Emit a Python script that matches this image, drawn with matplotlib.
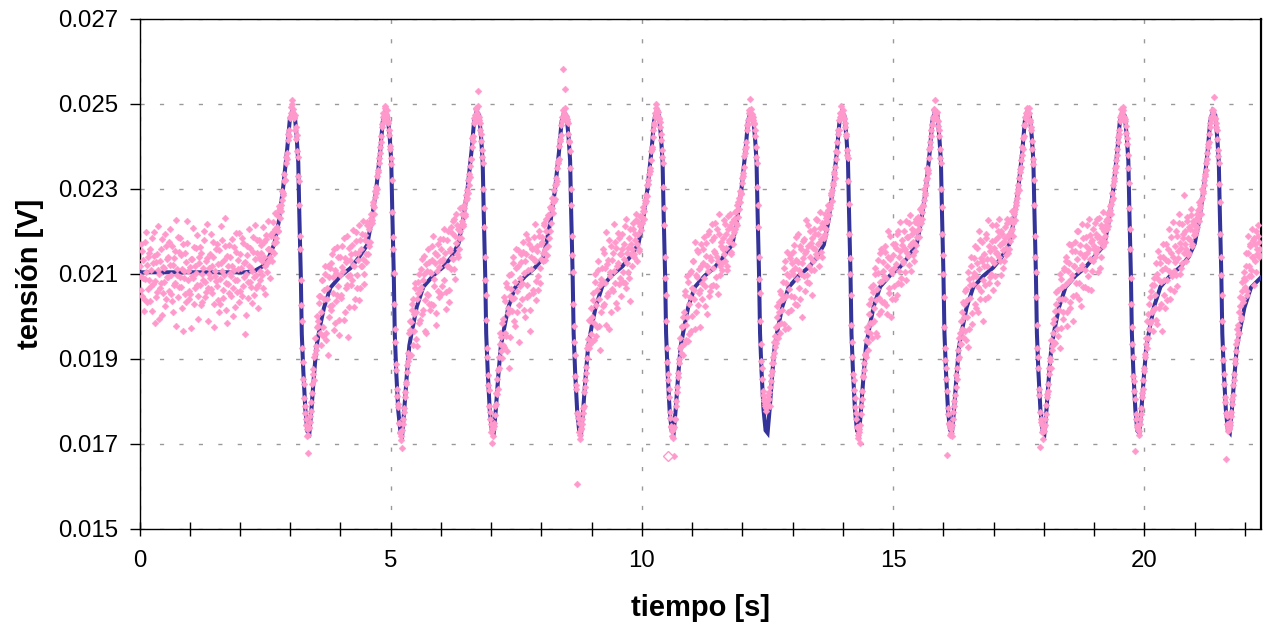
import matplotlib
matplotlib.use("Agg")
import matplotlib.pyplot as plt
import numpy as np
from matplotlib.ticker import FixedLocator, MultipleLocator, FormatStrFormatter

plt.rcParams['font.family'] = ['Liberation Sans', 'DejaVu Sans']

# ---------------- data (voltages in units of 1e-5 V) ----------------
SAMPLE_DT = 0.02          # s between samples of each raw list
OFFSET_B = 0.01           # list B sampled half a step later
VOLT_UNIT = 1e-5

raw_samples_a = [
 2118, 2062, 2155, 2090, 2041, 2176, 2104, 2033, 2139, 2087,
 2160, 2071, 2012, 2125, 2198, 2083, 2046, 2147, 2109, 1995,
 2131, 2078, 2182, 2056, 2115, 2025, 2167, 2094, 2140, 2061,
 2207, 2098, 2037, 2122, 2074, 2153, 1978, 2112, 2186, 2069,
 2093, 2144, 2020, 2171, 2108, 2052, 2129, 2224, 2085, 2040,
 2117, 1972, 2136, 2091, 2163, 2068, 2102, 2191, 2049, 2126,
 2075, 2150, 2034, 2113, 2202, 2081, 2058, 2137, 1990, 2099,
 2146, 2064, 2119, 2175, 2029, 2096, 2158, 2072, 2124, 2011,
 2088, 2213, 2107, 2044, 2132, 2166, 2078, 1984, 2120, 2055,
 2141, 2096, 2183, 2067, 2110, 2022, 2152, 2086, 2134, 2197,
 2059, 2115, 2048, 2172, 2093, 2128, 2004, 2145, 2082, 2118,
 2161, 2070, 2106, 2188, 2051, 2135, 2097, 2149, 2073, 2179,
 2085, 2150, 2131, 2067, 2176, 2118, 2192, 2104, 2160, 2133,
 2140, 2190, 2155, 2198, 2149, 2205, 2176, 2238, 2201, 2251,
 2255, 2248, 2296, 2290, 2335, 2322, 2376, 2384, 2430, 2440,
 2470, 2492, 2510, 2478, 2466, 2440, 2418, 2390, 2330, 2262,
 2160, 2028, 1925, 1852, 1808, 1772, 1745, 1718, 1678, 1738,
 1765, 1798, 1840, 1876, 1905, 1950, 1921, 2002, 1978, 2031,
 2048, 1934, 2085, 1975, 2062, 2101, 1945, 2040, 2120, 1998,
 2113, 2015, 2148, 2056, 1968, 2109, 2037, 2164, 2071, 1992,
 2140, 2043, 2117, 2185, 2011, 2129, 2075, 1952, 2162, 2098,
 2075, 2168, 2121, 2022, 2150, 2199, 2067, 2133, 2038, 2179,
 2118, 2194, 2136, 2077, 2180, 2129, 2222, 2148, 2205, 2176,
 2232, 2219, 2262, 2241, 2281, 2305, 2300, 2340, 2361, 2385,
 2410, 2445, 2470, 2462, 2490, 2475, 2486, 2455, 2438, 2402,
 2372, 2320, 2186, 2102, 1970, 1889, 1830, 1795, 1750, 1728,
 1710, 1732, 1746, 1784, 1810, 1846, 1870, 1915, 1904, 1968,
 1988, 2030, 1932, 2005, 2066, 1946, 2040, 2082, 1984, 2063,
 2111, 2007, 2085, 2143, 2038, 1961, 2108, 2050, 2129, 2016,
 2102, 2167, 2027, 2088, 2126, 1980, 2145, 2061, 2117, 2182,
 2054, 2131, 2182, 2085, 2150, 2018, 2118, 2201, 2063, 2160,
 2111, 2197, 2135, 2230, 2088, 2173, 2216, 2140, 2185, 2202,
 2215, 2240, 2218, 2262, 2236, 2285, 2279, 2322, 2310, 2355,
 2370, 2420, 2425, 2468, 2475, 2490, 2478, 2530, 2462, 2440,
 2412, 2376, 2300, 2210, 2085, 1992, 1905, 1838, 1790, 1760,
 1728, 1702, 1735, 1750, 1790, 1820, 1818, 1875, 1880, 1935,
 1952, 1902, 1994, 1928, 2036, 1955, 2070, 2009, 1880, 2048,
 2100, 2012, 2140, 2044, 1978, 2115, 2059, 2156, 2028, 2091,
 2129, 2040, 2176, 2102, 2000, 2147, 2074, 2183, 2051, 1965,
 2111, 2158, 2063, 2186, 2130, 2038, 2167, 2095, 2202, 2078,
 2135, 2188, 2150, 2221, 2132, 2200, 2166, 2239, 2202, 2252,
 2280, 2244, 2297, 2276, 2326, 2318, 2362, 2371, 2418, 2426,
 2460, 2582, 2476, 2490, 2472, 2465, 2455, 2412, 2390, 2300,
 2190, 2105, 1978, 1910, 1838, 1606, 1770, 1750, 1722, 1735,
 1748, 1772, 1790, 1835, 1868, 1902, 1932, 1925, 1990, 1958,
 2000, 2055, 1945, 2080, 2028, 1975, 2110, 2042, 1920, 2088,
 2115, 2024, 2150, 2078, 1981, 2124, 2055, 2180, 2096, 2010,
 2133, 2059, 2106, 2175, 2032, 2120, 2197, 2077, 2146, 2049,
 2160, 2081, 2136, 2212, 2068, 2150, 2105, 2185, 2037, 2171,
 2120, 2205, 2148, 2180, 2226, 2130, 2195, 2160, 2237, 2204,
 2220, 2248, 2230, 2266, 2285, 2284, 2320, 2335, 2342, 2390,
 2398, 2440, 2450, 2478, 2500, 2485, 2470, 2468, 2445, 2415,
 2375, 2305, 2215, 2090, 1990, 1892, 1850, 1810, 1762, 1740,
 1720, 1735, 1672, 1760, 1800, 1822, 1866, 1900, 1950, 1930,
 1975, 1910, 2010, 2051, 1945, 1998, 2080, 1958, 2045, 2108,
 2002, 2130, 2063, 1970, 2098, 2156, 2026, 2111, 2063, 2170,
 2042, 2127, 2188, 2071, 2142, 2006, 2108, 2200, 2059, 2133,
 2179, 2075, 2153, 2221, 2094, 2140, 2052, 2194, 2118, 2167,
 2110, 2184, 2146, 2218, 2161, 2120, 2205, 2175, 2240, 2152,
 2190, 2170, 2230, 2205, 2248, 2215, 2270, 2252, 2295, 2288,
 2325, 2330, 2378, 2395, 2410, 2450, 2462, 2485, 2511, 2476,
 2470, 2455, 2440, 2398, 2360, 2262, 2140, 2055, 1935, 1880,
 1825, 1800, 1790, 1778, 1795, 1806, 1822, 1790, 1848, 1872,
 1890, 1915, 1955, 1938, 2000, 1980, 2035, 1962, 2052, 2015,
 2080, 1983, 2130, 2048, 2100, 1972, 2065, 2145, 2016, 2108,
 2152, 2047, 2115, 2186, 2028, 2129, 2068, 2165, 2100, 2000,
 2137, 2182, 2060, 2153, 2098, 2215, 2079, 2141, 2174, 2050,
 2162, 2110, 2195, 2146, 2228, 2171, 2120, 2209, 2182, 2140,
 2210, 2185, 2242, 2205, 2225, 2262, 2238, 2256, 2290, 2272,
 2310, 2335, 2325, 2370, 2388, 2430, 2440, 2470, 2480, 2472,
 2485, 2468, 2455, 2430, 2392, 2372, 2265, 2138, 2050, 1940,
 1865, 1828, 1788, 1760, 1740, 1715, 1728, 1702, 1790, 1825,
 1858, 1890, 1912, 1945, 1975, 1920, 2030, 1985, 2070, 1950,
 2058, 1990, 2115, 2039, 1955, 2102, 2044, 2150, 2012, 2084,
 2128, 2035, 2166, 2091, 2006, 2139, 2067, 2190, 2110, 2042,
 2145, 2072, 2171, 2124, 2050, 2200, 2108, 2153, 2076, 2180,
 2130, 2202, 2158, 2085, 2186, 2142, 2221, 2165, 2108, 2194,
 2175, 2130, 2222, 2168, 2200, 2235, 2186, 2224, 2255, 2230,
 2262, 2300, 2285, 2320, 2350, 2338, 2395, 2410, 2440, 2452,
 2465, 2485, 2510, 2478, 2462, 2448, 2425, 2372, 2300, 2195,
 2100, 1975, 1898, 1852, 1675, 1770, 1750, 1722, 1735, 1745,
 1775, 1800, 1835, 1852, 1900, 1905, 1960, 1935, 2010, 1952,
 2030, 1965, 2065, 2000, 1928, 2088, 2043, 2120, 1982, 2076,
 2138, 2030, 2095, 2162, 2011, 2112, 2180, 2059, 2130, 1990,
 2148, 2074, 2195, 2120, 2046, 2167, 2092, 2135, 2216, 2063,
 2125, 2180, 2150, 2078, 2202, 2140, 2168, 2098, 2195, 2156,
 2130, 2185, 2162, 2220, 2150, 2195, 2178, 2230, 2205, 2190,
 2240, 2228, 2262, 2280, 2300, 2298, 2340, 2352, 2380, 2395,
 2425, 2450, 2465, 2482, 2478, 2490, 2462, 2445, 2412, 2370,
 2320, 2190, 2105, 1980, 1905, 1830, 1693, 1760, 1745, 1712,
 1730, 1745, 1770, 1810, 1825, 1865, 1895, 1880, 1930, 1962,
 1995, 1938, 2030, 1970, 2062, 2015, 1925, 2088, 2040, 1995,
 2110, 2042, 2140, 1978, 2081, 2126, 2020, 2168, 2097, 2048,
 2118, 2175, 2050, 2136, 2202, 2079, 2150, 2025, 2122, 2185,
 2140, 2070, 2166, 2215, 2095, 2158, 2192, 2062, 2180, 2130,
 2165, 2220, 2150, 2188, 2105, 2232, 2175, 2140, 2208, 2166,
 2200, 2175, 2215, 2230, 2212, 2245, 2260, 2240, 2290, 2310,
 2325, 2350, 2368, 2395, 2422, 2440, 2470, 2488, 2478, 2485,
 2470, 2460, 2432, 2405, 2350, 2255, 2160, 2030, 1935, 1860,
 1825, 1683, 1760, 1740, 1735, 1722, 1760, 1785, 1820, 1850,
 1880, 1912, 1935, 1990, 1950, 2030, 1985, 2060, 2010, 1965,
 2075, 2020, 2125, 1982, 2088, 2140, 2030, 2110, 2170, 2050,
 2020, 2132, 2086, 2160, 2108, 2041, 2186, 2095, 2140, 2060,
 2128, 2200, 2072, 2155, 2220, 2100, 2162, 2125, 2195, 2286,
 2170, 2130, 2225, 2185, 2150, 2205, 2238, 2170, 2218, 2192,
 2195, 2230, 2210, 2250, 2225, 2262, 2240, 2280, 2295, 2310,
 2330, 2345, 2370, 2400, 2410, 2445, 2465, 2470, 2485, 2517,
 2468, 2455, 2440, 2392, 2360, 2270, 2140, 2050, 1925, 1865,
 1810, 1665, 1765, 1740, 1738, 1745, 1765, 1795, 1815, 1850,
 1890, 1918, 1945, 1980, 1960, 2025, 1995, 2060, 2035, 2090,
 2070, 2120, 2050, 2150, 2095, 2165, 2110, 2140, 2180, 2075,
 2170, 2105, 2148, 2190, 2140, 2160,
]

raw_samples_b = [
 2095, 2170, 2048, 2133, 2012, 2089, 2198, 2121, 2064, 2150,
 2037, 2109, 2185, 2076, 2142, 1985, 2128, 2057, 2214, 2100,
 2066, 2158, 2003, 2117, 2081, 2193, 2040, 2135, 2092, 2176,
 2121, 2054, 2167, 2010, 2138, 2079, 2226, 2098, 2045, 2152,
 2184, 2069, 2112, 1966, 2091, 2149, 2035, 2173, 2108, 2060,
 2052, 2136, 2095, 2208, 2030, 2119, 2161, 2074, 1993, 2140,
 2163, 2026, 2101, 2085, 2179, 2047, 2130, 2218, 2068, 2114,
 2090, 2195, 2055, 2141, 1975, 2106, 2083, 2170, 2039, 2157,
 2029, 2126, 2180, 2062, 2097, 2232, 2015, 2143, 2076, 2168,
 2103, 2049, 2120, 2001, 2164, 2087, 2196, 2058, 2111, 2034,
 2148, 2184, 2072, 2126, 1958, 2099, 2167, 2043, 2205, 2081,
 2113, 2031, 2152, 2094, 2215, 2066, 2179, 2019, 2137, 2108,
 2168, 2097, 2210, 2140, 2052, 2183, 2126, 2225, 2159, 2090,
 2195, 2131, 2222, 2172, 2243, 2185, 2211, 2200, 2259, 2232,
 2262, 2275, 2285, 2318, 2320, 2360, 2370, 2415, 2425, 2468,
 2478, 2500, 2488, 2470, 2474, 2445, 2428, 2375, 2318, 2190,
 2085, 1990, 1892, 1840, 1790, 1760, 1735, 1722, 1740, 1752,
 1778, 1820, 1865, 1850, 1912, 1930, 1975, 1990, 2048, 1960,
 2010, 2085, 1955, 2040, 2120, 1962, 2068, 1910, 2092, 2025,
 2126, 2028, 2092, 2160, 1984, 2103, 2050, 2140, 1957, 2098,
 2051, 2165, 2108, 1992, 2137, 2068, 2190, 2095, 2023, 2132,
 2146, 2085, 2204, 2120, 2042, 2178, 2097, 2150, 2215, 2068,
 2160, 2118, 2225, 2100, 2192, 2148, 2215, 2175, 2166, 2215,
 2240, 2228, 2270, 2258, 2295, 2290, 2330, 2345, 2372, 2398,
 2425, 2452, 2478, 2472, 2495, 2476, 2470, 2460, 2428, 2395,
 2358, 2245, 2160, 2030, 1940, 1875, 1812, 1788, 1750, 1725,
 1720, 1690, 1760, 1775, 1822, 1840, 1885, 1895, 1962, 1990,
 1910, 2015, 2042, 1965, 2078, 2010, 1930, 2055, 2100, 1992,
 2070, 2136, 2015, 2100, 1965, 2124, 2052, 2158, 2030, 2105,
 2030, 2133, 2190, 2072, 2150, 2008, 2108, 2170, 2045, 2130,
 2160, 2072, 2135, 2206, 2057, 2181, 2120, 2035, 2155, 2210,
 2138, 2225, 2112, 2190, 2242, 2148, 2205, 2160, 2255, 2185,
 2225, 2212, 2255, 2240, 2275, 2298, 2290, 2335, 2328, 2370,
 2398, 2412, 2455, 2460, 2488, 2475, 2495, 2470, 2455, 2430,
 2392, 2360, 2255, 2140, 2050, 1925, 1862, 1828, 1775, 1748,
 1738, 1720, 1742, 1768, 1795, 1852, 1830, 1905, 1960, 1918,
 1985, 1932, 2045, 1960, 2078, 1918, 2020, 2098, 1952, 2065,
 2042, 2125, 1990, 2082, 2160, 2010, 2118, 1940, 2072, 2146,
 2078, 2152, 2016, 2130, 2195, 2045, 2110, 2170, 2015, 2140,
 2162, 2055, 2136, 2218, 2084, 2155, 2062, 2190, 2113, 2170,
 2175, 2130, 2216, 2158, 2230, 2145, 2238, 2185, 2258, 2220,
 2255, 2270, 2272, 2310, 2312, 2350, 2365, 2402, 2412, 2450,
 2470, 2485, 2478, 2536, 2470, 2460, 2430, 2410, 2350, 2262,
 2145, 2030, 1940, 1860, 1830, 1772, 1762, 1728, 1712, 1738,
 1760, 1785, 1822, 1850, 1882, 1925, 1948, 1992, 1935, 2020,
 1942, 2038, 1985, 2100, 1955, 2062, 2130, 1978, 2075, 2010,
 2082, 2158, 2030, 2115, 2198, 2048, 2132, 1970, 2105, 2166,
 2065, 2150, 2218, 2078, 2162, 2020, 2125, 2185, 2090, 2148,
 2195, 2105, 2170, 2078, 2230, 2125, 2162, 2090, 2205, 2148,
 2158, 2220, 2140, 2195, 2240, 2170, 2222, 2155, 2212, 2235,
 2235, 2258, 2248, 2275, 2272, 2310, 2312, 2350, 2368, 2395,
 2422, 2455, 2470, 2490, 2475, 2482, 2465, 2458, 2430, 2392,
 2362, 2255, 2140, 2050, 1925, 1865, 1830, 1775, 1742, 1730,
 1715, 1740, 1760, 1790, 1835, 1858, 1890, 1925, 1915, 1978,
 2000, 1935, 2060, 1980, 2095, 1942, 2030, 2102, 1965, 2068,
 2130, 2040, 2175, 2010, 2092, 2152, 2055, 1975, 2120, 2078,
 2160, 2090, 2025, 2172, 2118, 2195, 2048, 2140, 2072, 2218,
 2115, 2188, 2150, 2072, 2205, 2130, 2240, 2098, 2175, 2126,
 2160, 2228, 2130, 2195, 2110, 2236, 2180, 2212, 2148, 2222,
 2205, 2198, 2245, 2220, 2262, 2235, 2280, 2270, 2290, 2315,
 2338, 2352, 2385, 2400, 2440, 2452, 2478, 2470, 2488, 2472,
 2462, 2452, 2425, 2375, 2305, 2210, 2088, 1990, 1895, 1852,
 1815, 1805, 1795, 1785, 1800, 1815, 1805, 1835, 1862, 1890,
 1905, 1940, 1928, 1975, 2025, 1950, 2010, 2060, 1985, 2042,
 2040, 2115, 1970, 2078, 2152, 2010, 2095, 2138, 2048, 2125,
 2100, 2168, 2030, 2132, 2088, 2195, 2110, 2040, 2158, 2125,
 2178, 2095, 2150, 2226, 2082, 2165, 2120, 2202, 2110, 2185,
 2130, 2205, 2158, 2230, 2140, 2195, 2172, 2245, 2152, 2220,
 2188, 2220, 2195, 2232, 2225, 2250, 2260, 2262, 2285, 2298,
 2315, 2340, 2352, 2390, 2410, 2438, 2462, 2478, 2495, 2478,
 2475, 2465, 2445, 2425, 2380, 2318, 2195, 2100, 1980, 1905,
 1850, 1808, 1772, 1740, 1722, 1735, 1745, 1770, 1805, 1860,
 1875, 1910, 1905, 1965, 1940, 2005, 1962, 2040, 1985, 2075,
 2020, 2100, 1960, 2065, 2132, 2005, 2080, 2160, 2035, 2108,
 2095, 2152, 2028, 2120, 2200, 2055, 2135, 1998, 2102, 2170,
 2115, 2040, 2162, 2195, 2078, 2140, 2222, 2090, 2168, 2125,
 2160, 2105, 2225, 2150, 2188, 2122, 2238, 2170, 2205, 2145,
 2200, 2155, 2230, 2188, 2218, 2205, 2252, 2220, 2245, 2260,
 2275, 2290, 2310, 2325, 2345, 2372, 2400, 2425, 2450, 2470,
 2488, 2478, 2470, 2482, 2460, 2440, 2395, 2360, 2258, 2145,
 2045, 1925, 1880, 1825, 1785, 1748, 1740, 1725, 1718, 1758,
 1790, 1815, 1862, 1880, 1922, 1950, 1935, 1990, 1970, 2035,
 2000, 2060, 1945, 2038, 2105, 1970, 2075, 2140, 2008, 2092,
 2102, 2165, 2020, 2125, 2070, 2200, 2042, 2138, 2175, 2085,
 2120, 2040, 2185, 2135, 2228, 2078, 2155, 2100, 2178, 2130,
 2162, 2095, 2215, 2150, 2188, 2230, 2130, 2200, 2172, 2115,
 2175, 2210, 2145, 2230, 2190, 2160, 2225, 2200, 2248, 2220,
 2245, 2252, 2270, 2290, 2310, 2325, 2348, 2368, 2398, 2420,
 2450, 2470, 2478, 2490, 2475, 2480, 2458, 2440, 2395, 2358,
 2262, 2140, 2045, 1925, 1880, 1815, 1775, 1752, 1728, 1735,
 1740, 1758, 1792, 1818, 1840, 1880, 1902, 1945, 1920, 1985,
 1940, 2012, 2058, 1955, 2040, 2100, 1972, 2070, 2010, 2115,
 2075, 2130, 2010, 2108, 2170, 2035, 2088, 2155, 1990, 2120,
 2155, 2078, 2200, 2110, 2040, 2168, 2115, 2218, 2070, 2145,
 2110, 2188, 2150, 2065, 2230, 2135, 2175, 2108, 2205, 2160,
 2140, 2195, 2230, 2158, 2188, 2115, 2215, 2180, 2245, 2175,
 2190, 2225, 2205, 2240, 2228, 2250, 2265, 2275, 2280, 2318,
 2340, 2355, 2380, 2410, 2430, 2460, 2475, 2480, 2492, 2470,
 2465, 2448, 2420, 2380, 2315, 2205, 2090, 1975, 1905, 1848,
 1805, 1770, 1745, 1735, 1730, 1748, 1770, 1810, 1830, 1872,
 1905, 1950, 1925, 2005, 1970, 2045, 1990, 2075, 2015, 2090,
 2050, 1992, 2100, 2155, 2020, 2125, 2080, 1965, 2140, 2085,
 2115, 2170, 2038, 2130, 2205, 2065, 2150, 2100, 2222, 2108,
 2165, 2098, 2190, 2138, 2240, 2172, 2115, 2218, 2185, 2150,
 2202, 2160, 2235, 2145, 2210, 2180, 2252, 2165, 2225, 2200,
 2215, 2200, 2240, 2235, 2270, 2255, 2275, 2300, 2290, 2320,
 2335, 2360, 2385, 2405, 2430, 2455, 2470, 2485, 2478, 2470,
 2465, 2445, 2418, 2378, 2312, 2195, 2098, 1990, 1898, 1840,
 1798, 1772, 1748, 1730, 1735, 1752, 1775, 1805, 1838, 1865,
 1900, 1935, 1970, 1958, 2010, 2045, 2000, 2080, 2040, 2105,
 2085, 2150, 2060, 2190, 2120, 2170, 2095, 2205, 2140, 2185,
 2130, 2200, 2158, 2215, 2175, 2145,
]

# one sample drawn with a different (hollow) marker in the original
odd_t = [10.52]
odd_v = [1671]

# smoothed trace (time in s, voltage in 1e-5 V)
smooth_t = [
 0.00, 2.10, 2.30, 2.45, 2.56,
 2.68, 2.77, 2.86, 2.94, 2.99, 3.04, 3.09, 3.13, 3.16, 3.18, 3.21, 3.23, 3.26, 3.30, 3.34, 3.38, 3.42, 3.47, 3.52, 3.59, 3.67, 3.80, 4.00, 4.20, 4.36,
 4.53, 4.62, 4.71, 4.79, 4.84, 4.89, 4.94, 4.98, 5.01, 5.03, 5.06, 5.08, 5.11, 5.15, 5.19, 5.23, 5.27, 5.32, 5.37, 5.44, 5.52, 5.65, 5.85, 6.05, 6.21,
 6.35, 6.44, 6.53, 6.61, 6.66, 6.71, 6.76, 6.80, 6.83, 6.85, 6.88, 6.90, 6.93, 6.97, 7.01, 7.05, 7.09, 7.14, 7.19, 7.26, 7.34, 7.47, 7.67, 7.87, 8.03,
 8.09, 8.18, 8.27, 8.35, 8.40, 8.45, 8.50, 8.54, 8.57, 8.59, 8.62, 8.64, 8.67, 8.71, 8.75, 8.79, 8.83, 8.88, 8.93, 9.00, 9.08, 9.21, 9.41, 9.61, 9.77,
 9.93, 10.02, 10.11, 10.19, 10.24, 10.29, 10.34, 10.38, 10.41, 10.43, 10.46, 10.48, 10.51, 10.55, 10.59, 10.63, 10.67, 10.72, 10.77, 10.84, 10.92, 11.05, 11.25, 11.45, 11.61,
 11.80, 11.89, 11.98, 12.06, 12.11, 12.16, 12.21, 12.25, 12.28, 12.30, 12.33, 12.35, 12.38, 12.42, 12.46, 12.50, 12.54, 12.59, 12.64, 12.71, 12.79, 12.92, 13.12, 13.32, 13.48,
 13.62, 13.71, 13.80, 13.88, 13.93, 13.98, 14.03, 14.07, 14.10, 14.12, 14.15, 14.17, 14.20, 14.24, 14.28, 14.32, 14.36, 14.41, 14.46, 14.53, 14.61, 14.74, 14.94, 15.14, 15.30,
 15.47, 15.56, 15.65, 15.73, 15.78, 15.83, 15.88, 15.92, 15.95, 15.97, 16.00, 16.02, 16.05, 16.09, 16.13, 16.17, 16.21, 16.26, 16.31, 16.38, 16.46, 16.59, 16.79, 16.99, 17.15,
 17.31, 17.40, 17.49, 17.57, 17.62, 17.67, 17.72, 17.76, 17.79, 17.81, 17.84, 17.86, 17.89, 17.93, 17.97, 18.01, 18.05, 18.10, 18.15, 18.22, 18.30, 18.43, 18.63, 18.83, 18.99,
 19.20, 19.29, 19.38, 19.46, 19.51, 19.56, 19.61, 19.65, 19.68, 19.70, 19.73, 19.75, 19.78, 19.82, 19.86, 19.90, 19.94, 19.99, 20.04, 20.11, 20.19, 20.32, 20.52, 20.72, 20.88,
 21.00, 21.09, 21.18, 21.26, 21.31, 21.36, 21.41, 21.45, 21.48, 21.50, 21.53, 21.55, 21.58, 21.62, 21.66, 21.70, 21.74, 21.79, 21.84, 21.91, 21.99, 22.12, 22.32,
]
smooth_v = [
 2104, 2104, 2108, 2118, 2135,
 2170, 2222, 2305, 2395, 2462, 2485, 2475, 2418, 2362, 2245, 2098, 1958, 1872, 1782, 1730, 1725, 1778, 1858, 1928, 1975, 2020, 2068, 2095, 2114, 2138,
 2168, 2226, 2298, 2388, 2458, 2482, 2470, 2422, 2366, 2252, 2102, 1962, 1868, 1778, 1732, 1724, 1782, 1862, 1932, 1976, 2024, 2070, 2097, 2117, 2140,
 2172, 2228, 2302, 2392, 2461, 2483, 2474, 2419, 2363, 2248, 2099, 1959, 1871, 1781, 1733, 1727, 1779, 1859, 1929, 1974, 2021, 2067, 2094, 2115, 2137,
 2169, 2224, 2299, 2389, 2459, 2481, 2472, 2421, 2367, 2251, 2101, 1961, 1869, 1779, 1731, 1726, 1781, 1861, 1931, 1977, 2023, 2071, 2098, 2118, 2141,
 2171, 2226, 2301, 2391, 2460, 2482, 2473, 2420, 2364, 2249, 2100, 1960, 1870, 1780, 1732, 1725, 1780, 1860, 1930, 1975, 2022, 2069, 2096, 2116, 2139,
 2170, 2225, 2300, 2390, 2460, 2481, 2473, 2420, 2365, 2250, 2100, 1960, 1870, 1780, 1732, 1726, 1780, 1860, 1930, 1975, 2022, 2069, 2096, 2116, 2139,
 2169, 2224, 2302, 2389, 2458, 2482, 2472, 2421, 2366, 2251, 2101, 1959, 1869, 1779, 1731, 1724, 1781, 1861, 1931, 1976, 2023, 2070, 2097, 2117, 2140,
 2171, 2226, 2299, 2391, 2461, 2483, 2474, 2419, 2364, 2249, 2099, 1961, 1871, 1781, 1733, 1727, 1779, 1859, 1929, 1974, 2021, 2068, 2095, 2115, 2138,
 2170, 2225, 2301, 2390, 2460, 2482, 2473, 2420, 2365, 2250, 2100, 1960, 1870, 1780, 1732, 1725, 1780, 1860, 1930, 1975, 2022, 2069, 2096, 2116, 2139,
 2168, 2223, 2300, 2388, 2459, 2481, 2472, 2421, 2366, 2251, 2101, 1961, 1869, 1779, 1731, 1726, 1781, 1861, 1931, 1976, 2023, 2070, 2097, 2117, 2140,
 2171, 2226, 2302, 2391, 2461, 2483, 2474, 2419, 2364, 2249, 2099, 1959, 1871, 1781, 1733, 1727, 1779, 1859, 1929, 1974, 2021, 2068, 2092,
]

x_major = [0, 5, 10, 15, 20]
y_ticks = [0.015, 0.017, 0.019, 0.021, 0.023, 0.025, 0.027]
x_label = "tiempo [s]"
y_label = "tensión [V]"

# ---------------- figure ----------------
W, H = 1265, 624
fig = plt.figure(figsize=(W / 100, H / 100), dpi=100)
L, R, T, B = 139.5, 1261, 19, 529
ax = fig.add_axes([L / W, 1 - B / H, (R - L) / W, (B - T) / H])

va = np.array(raw_samples_a) * VOLT_UNIT
ta = np.arange(len(raw_samples_a)) * SAMPLE_DT
vb = np.array(raw_samples_b) * VOLT_UNIT
tb = OFFSET_B + np.arange(len(raw_samples_b)) * SAMPLE_DT
raw_t = np.concatenate([ta, tb])
raw_v = np.concatenate([va, vb])

ax.plot(np.array(smooth_t), np.array(smooth_v) * VOLT_UNIT, color='#333399',
        lw=2.9, solid_joinstyle='miter', zorder=3)
ax.plot(raw_t, raw_v, ls='none', marker='D', ms=3.5, mfc='#FF99CC',
        mec='#FF99CC', mew=0.3, zorder=4)
ax.plot(odd_t, np.array(odd_v) * VOLT_UNIT, ls='none', marker='D', ms=5.5,
        mfc='white', mec='#FF99CC', mew=1.0, zorder=5)

ax.set_xlim(0, 22.32)
ax.set_ylim(0.015, 0.027)

ax.xaxis.set_major_locator(FixedLocator(x_major))
ax.xaxis.set_minor_locator(MultipleLocator(1))
ax.yaxis.set_major_locator(FixedLocator(y_ticks))
ax.yaxis.set_major_formatter(FormatStrFormatter('%.3f'))

ax.grid(True, which='major', color='#999999', lw=1.0, ls=(0, (3, 11)))
ax.set_axisbelow(True)

ax.tick_params(axis='x', which='both', direction='inout', length=10, width=1,
               labelsize=17.3, pad=10)
ax.tick_params(axis='y', which='major', direction='out', length=7.5, width=1,
               labelsize=17.3, pad=8)
for s in ax.spines.values():
    s.set_linewidth(1.0)
    s.set_color('black')
ax.spines['right'].set_linewidth(1.6)

ax.set_xlabel(x_label, fontsize=21, fontweight='bold')
ax.set_ylabel(y_label, fontsize=21, fontweight='bold')
ax.xaxis.set_label_coords(0.5, (B - 622) / (B - T))
ax.xaxis.label.set_va('bottom')
ax.yaxis.set_label_coords((44 - L) / (R - L), 0.5)

fig.savefig('out.png', dpi=100)
